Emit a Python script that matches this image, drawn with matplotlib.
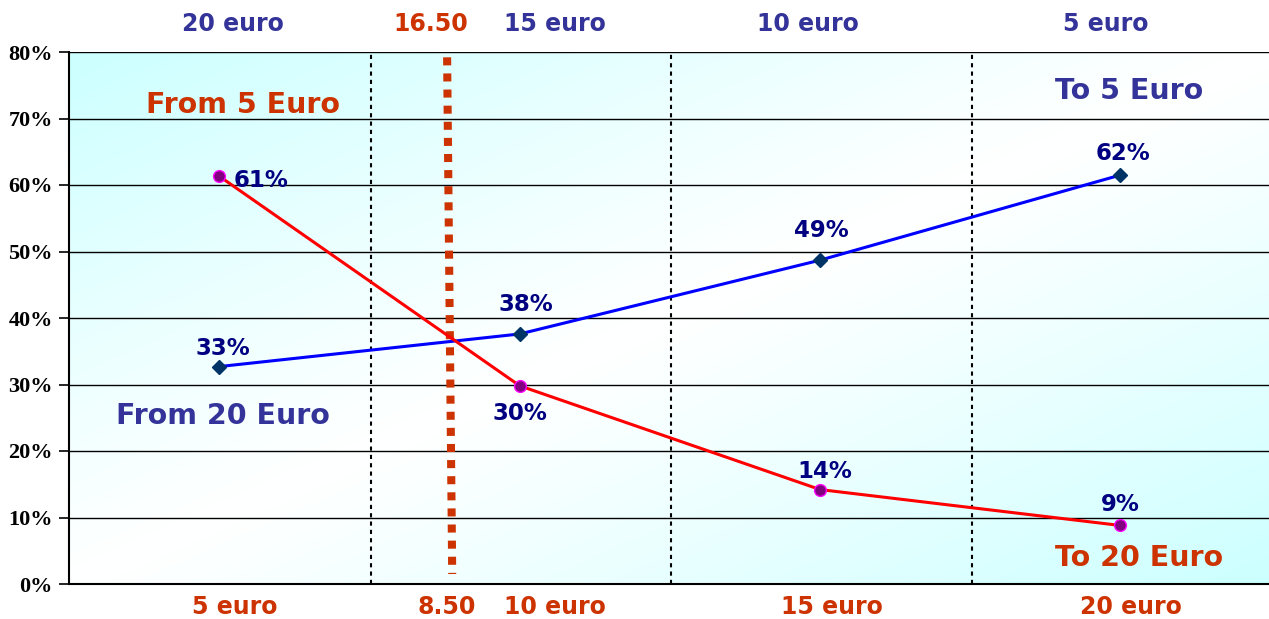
import numpy as np
import matplotlib
matplotlib.use("Agg")
import matplotlib.pyplot as plt
from matplotlib.transforms import blended_transform_factory

# ---- data ----
x_pos = [0.5, 1.5, 2.5, 3.5]
bottom_labels = ["5 euro", "10 euro", "15 euro", "20 euro"]
top_labels = ["20 euro", "15 euro", "10 euro", "5 euro"]
to5_values = [32.7, 37.6, 48.7, 61.5]      # blue: From 20 Euro -> To 5 Euro
to20_values = [61.3, 29.8, 14.2, 8.8]      # red: From 5 Euro -> To 20 Euro
to5_labels = ["33%", "38%", "49%", "62%"]
to20_labels = ["61%", "30%", "14%", "9%"]
yticks = [0, 10, 20, 30, 40, 50, 60, 70, 80]
ytick_labels = [f"{v}%" for v in yticks]
separators = [1.005, 2.004, 3.006]
cross_x = [1.258, 1.275]        # break-even line (top, bottom)
cross_y = [79.2, 1.5]
cross_top_label = "16.50"
cross_bottom_label = "8.50"

TOPC = "#333399"
BOTC = "#CC3300"
NAVY = "#000080"

L, W = 69.3, 1201.3
fig = plt.figure(figsize=(12.69, 6.19), dpi=100)
ax = fig.add_axes([L/1269, 35/619, W/1269, 532/619])
ax.set_xlim(0, 4)
ax.set_ylim(0, 80)

# gradient background
nx, ny = 400, 200
u = np.linspace(0, 1, nx)[None, :]
v = np.linspace(1, 0, ny)[:, None]   # row 0 = top
t = (u + (1 - v)) / 2.0
inten = np.abs(2 * t - 1) ** 1.1
cyan = np.array([0.80, 1.0, 1.0])
white = np.array([1.0, 1.0, 1.0])
img = white[None, None, :] * (1 - inten[..., None]) + cyan[None, None, :] * inten[..., None]
ax.imshow(img, extent=[0, 4, 0, 80], aspect="auto", zorder=0, interpolation="bilinear")

# grid lines
for yv in yticks[1:]:
    ax.axhline(yv, color="black", lw=1.0, zorder=1)
for xv in separators:
    ax.axvline(xv, color="black", lw=1.5, linestyle=(0, (2, 2)), zorder=1)

# break-even line
ax.plot(cross_x, cross_y, color=BOTC, lw=5.8, linestyle=(0, (1, 1)), zorder=2,
        solid_capstyle="butt", dash_capstyle="butt")

# series
ax.plot(x_pos, to5_values, color="#0000FF", lw=2.2, marker="D", markersize=7.5,
        markerfacecolor="#003366", markeredgecolor="#003366", zorder=4)
ax.plot(x_pos, to20_values, color="#FF0000", lw=2.2, marker="o", markersize=8.5,
        markerfacecolor="#800080", markeredgecolor="#FF00FF", markeredgewidth=1, zorder=4)

lab_kw = dict(color=NAVY, fontsize=16.5, fontweight="bold", family="DejaVu Sans", zorder=5)
# blue labels (above)
to5_off = [(0.01, 2.7), (0.02, 4.4), (0.005, 4.4), (0.01, 3.3)]
for xv, yv, s, (dx, dy) in zip(x_pos, to5_values, to5_labels, to5_off):
    ax.text(xv + dx, yv + dy, s, ha="center", va="center", **lab_kw)
# red labels
to20_off = [(0.14, -0.6), (0.0, -4.1), (0.015, 2.7), (0.0, 3.2)]
for xv, yv, s, (dx, dy) in zip(x_pos, to20_values, to20_labels, to20_off):
    ax.text(xv + dx, yv + dy, s, ha="center", va="center", **lab_kw)

# annotations
big = dict(fontsize=20.5, fontweight="bold", family="DejaVu Sans", zorder=5)
ax.text(0.578, 72.1, "From 5 Euro", color=BOTC, ha="center", va="center", **big)
ax.text(0.512, 25.3, "From 20 Euro", color=TOPC, ha="center", va="center", **big)
ax.text(3.53, 74.1, "To 5 Euro", color=TOPC, ha="center", va="center", **big)
ax.text(3.563, 3.9, "To 20 Euro", color=BOTC, ha="center", va="center", **big)

# axis category labels (top and bottom)
tr = blended_transform_factory(ax.transData, ax.transAxes)
cat = dict(fontsize=17, fontweight="bold", family="DejaVu Sans")
top_x = [0.545, 1.617, 2.46, 3.45]
bot_x = [0.552, 1.617, 2.54, 3.535]
for xv, s in zip(top_x, top_labels):
    ax.text(xv, 1 + 28/532, s, color=TOPC, ha="center", va="center", transform=tr, **cat)
for xv, s in zip(bot_x, bottom_labels):
    ax.text(xv, -23/532, s, color=BOTC, ha="center", va="center", transform=tr, **cat)
ax.text(1.203, 1 + 28/532, cross_top_label, color=BOTC, ha="center", va="center", transform=tr, **cat)
ax.text(1.258, -23/532, cross_bottom_label, color=BOTC, ha="center", va="center", transform=tr, **cat)

# axes styling
ax.set_xticks([])
ax.set_yticks(yticks)
ax.set_yticklabels(ytick_labels, family="Liberation Serif", fontweight="bold", fontsize=16)
ax.tick_params(axis="y", direction="out", length=7, width=1.2, pad=5)
for side in ["top", "right"]:
    ax.spines[side].set_visible(False)
ax.spines["left"].set_linewidth(1.5)
ax.spines["bottom"].set_linewidth(1.5)
ax.spines["left"].set_zorder(6)
ax.spines["bottom"].set_zorder(6)

fig.savefig("out.png", dpi=100)
